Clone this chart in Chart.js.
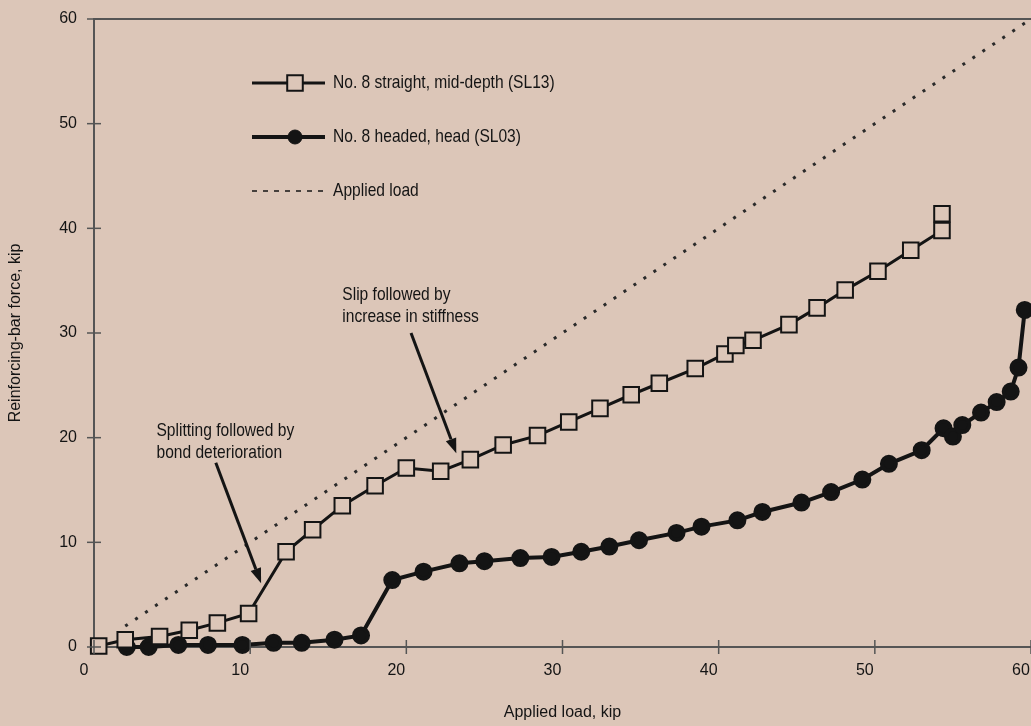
<!DOCTYPE html>
<html>
<head>
<meta charset="utf-8">
<script src="https://cdn.jsdelivr.net/npm/chart.js@4.4.1/dist/chart.umd.min.js"></script>
<style>
  html, body { margin: 0; padding: 0; background: #dcc6b8; }
</style>
</head>
<body>
<canvas id="myChart" width="1031" height="726"></canvas>
<script>
// datos (carga aplicada, kip -> fuerza en la barra, kip)
const rectaX = [0.3, 2.0, 4.2, 6.1, 7.9, 9.9, 12.3, 14.0, 15.9, 18.0, 20.0, 22.2, 24.1, 26.2, 28.4, 30.4,
    32.4, 34.4, 36.2, 38.5, 40.4, 41.1, 42.2, 44.5, 46.3, 48.1, 50.2, 52.3, 54.3, 54.3];
const rectaY = [0.1, 0.7, 1.0, 1.6, 2.3, 3.2, 9.1, 11.2, 13.5, 15.4, 17.1, 16.8, 17.9, 19.3, 20.2, 21.5,
    22.8, 24.1, 25.2, 26.6, 28.0, 28.8, 29.3, 30.8, 32.4, 34.1, 35.9, 37.9, 39.8, 41.4];

const cabezaX = [2.1, 3.5, 5.4, 7.3, 9.5, 11.5, 13.3, 15.4, 17.1, 19.1, 21.1, 23.4, 25.0, 27.3, 29.3, 31.2,
    33.0, 34.9, 37.3, 38.9, 41.2, 42.8, 45.3, 47.2, 49.2, 50.9, 53.0, 54.4, 55.0, 55.6, 56.8, 57.8, 58.7, 59.2, 59.6];
const cabezaY = [0.0, 0.0, 0.2, 0.2, 0.2, 0.4, 0.4, 0.7, 1.1, 6.4, 7.2, 8.0, 8.2, 8.5, 8.6, 9.1,
    9.6, 10.2, 10.9, 11.5, 12.1, 12.9, 13.8, 14.8, 16.0, 17.5, 18.8, 20.9, 20.1, 21.2, 22.4, 23.4, 24.4, 26.7, 32.2];

const cargaX = [2, 60];
const cargaY = [2, 60];

const etiquetas = ['No. 8 straight, mid-depth (SL13)', 'No. 8 headed, head (SL03)', 'Applied load'];
const ticksEjes = [0, 10, 20, 30, 40, 50, 60];

// notas con flecha (en unidades de los ejes)
const notas = [
    { lineas: ['Splitting followed by', 'bond deterioration'], x: 4.0, y: 20.7, desde: [7.8, 17.6], hasta: [10.7, 6.1] },
    { lineas: ['Slip followed by', 'increase in stiffness'], x: 15.9, y: 33.7, desde: [20.3, 30.0], hasta: [23.2, 18.5] }
];

const fondo = '#dcc6b8';
const tinta = '#141414';
const ejeColor = '#555';
const fuente = "'Liberation Sans', Arial, sans-serif";

Chart.defaults.font.family = fuente;
Chart.defaults.font.size = 16;
Chart.defaults.color = tinta;

const pares = (xs, ys) => xs.map((x, i) => ({ x: x, y: ys[i] }));

// texto estrecho (la grafica original usa una letra condensada)
function textoEstrecho(ctx, t, x, y) {
    ctx.save();
    ctx.translate(x, y);
    ctx.scale(0.82, 1);
    ctx.fillText(t, 0, 0);
    ctx.restore();
}

//Bloque donde se montan los datos
const data = {
    datasets: [{
        label: etiquetas[0],
        data: pares(rectaX, rectaY),
        borderColor: tinta,
        borderWidth: 3,
        pointStyle: 'rect',
        pointRadius: 11,
        pointBorderWidth: 2,
        pointBackgroundColor: fondo,
        pointBorderColor: tinta,
        clip: false
    }, {
        label: etiquetas[1],
        data: pares(cabezaX, cabezaY),
        borderColor: tinta,
        borderWidth: 4,
        pointStyle: 'circle',
        pointRadius: 7,
        pointBackgroundColor: tinta,
        pointBorderColor: tinta,
        clip: false
    }, {
        label: etiquetas[2],
        data: pares(cargaX, cargaY),
        borderColor: '#2a2a2a',
        borderWidth: 3,
        borderDash: [3, 9],
        pointRadius: 0,
        clip: false
    }]
};

// fondo, bordes, marcas de los ejes, leyenda y notas
const extras = {
    id: 'extras',
    beforeDraw(chart) {
        const ctx = chart.ctx;
        ctx.save();
        ctx.fillStyle = fondo;
        ctx.fillRect(0, 0, chart.width, chart.height);
        ctx.restore();
    },
    afterDatasetsDraw(chart) {
        const ctx = chart.ctx;
        const a = chart.chartArea;
        const sx = chart.scales.x, sy = chart.scales.y;
        ctx.save();

        // borde superior
        ctx.strokeStyle = ejeColor;
        ctx.lineWidth = 2;
        ctx.beginPath();
        ctx.moveTo(a.left, a.top);
        ctx.lineTo(a.right, a.top);
        ctx.stroke();

        // marcas que cruzan los ejes
        ctx.lineWidth = 1.5;
        ticksEjes.forEach(v => {
            const py = sy.getPixelForValue(v);
            ctx.beginPath();
            ctx.moveTo(a.left - 7, py);
            ctx.lineTo(a.left + 7, py);
            ctx.stroke();
            const px = sx.getPixelForValue(v);
            ctx.beginPath();
            ctx.moveTo(px, a.bottom - 7);
            ctx.lineTo(px, a.bottom + 7);
            ctx.stroke();
        });

        // leyenda
        ctx.font = '19px ' + fuente;
        ctx.textBaseline = 'middle';
        ctx.textAlign = 'left';
        chart.data.datasets.forEach((ds, i) => {
            const y = a.top + 64 + i * 54;
            const x0 = a.left + 158, x1 = a.left + 231;
            ctx.strokeStyle = tinta;
            if (i === 2) {
                ctx.lineWidth = 1.5;
                ctx.setLineDash([5, 6]);
            } else {
                ctx.lineWidth = ds.borderWidth;
            }
            ctx.beginPath();
            ctx.moveTo(x0, y);
            ctx.lineTo(x1, y);
            ctx.stroke();
            ctx.setLineDash([]);
            if (i < 2) {
                ctx.fillStyle = ds.pointBackgroundColor;
                ctx.strokeStyle = ds.pointBorderColor;
                ctx.lineWidth = ds.pointBorderWidth || 1;
                Chart.helpers.drawPoint(ctx, {
                    pointStyle: ds.pointStyle,
                    radius: ds.pointRadius,
                    borderWidth: ds.pointBorderWidth || 1
                }, a.left + 201, y);
            }
            ctx.fillStyle = tinta;
            textoEstrecho(ctx, ds.label, a.left + 239, y);
        });

        // notas con flecha
        notas.forEach(n => {
            const tx = sx.getPixelForValue(n.x), ty = sy.getPixelForValue(n.y);
            ctx.fillStyle = tinta;
            n.lineas.forEach((t, k) => textoEstrecho(ctx, t, tx, ty + k * 22));
            const x0 = sx.getPixelForValue(n.desde[0]), y0 = sy.getPixelForValue(n.desde[1]);
            const x1 = sx.getPixelForValue(n.hasta[0]), y1 = sy.getPixelForValue(n.hasta[1]);
            const ang = Math.atan2(y1 - y0, x1 - x0);
            const largo = 15, ancho = 5.5;
            ctx.strokeStyle = tinta;
            ctx.lineWidth = 3;
            ctx.beginPath();
            ctx.moveTo(x0, y0);
            ctx.lineTo(x1 - Math.cos(ang) * largo, y1 - Math.sin(ang) * largo);
            ctx.stroke();
            ctx.beginPath();
            ctx.moveTo(x1, y1);
            ctx.lineTo(x1 - Math.cos(ang) * largo - Math.sin(ang) * ancho, y1 - Math.sin(ang) * largo + Math.cos(ang) * ancho);
            ctx.lineTo(x1 - Math.cos(ang) * largo + Math.sin(ang) * ancho, y1 - Math.sin(ang) * largo - Math.cos(ang) * ancho);
            ctx.closePath();
            ctx.fill();
        });
        ctx.restore();
    }
};

const options = {
    responsive: false,
    animation: false,
    layout: { autoPadding: false, padding: { top: 19, right: 0, left: 0, bottom: 0 } },
    plugins: {
        legend: { display: false },
        tooltip: { enabled: false }
    },
    elements: { line: { tension: 0 } },
    scales: {
        x: {
            type: 'linear',
            min: 0,
            max: 60,
            grid: { display: false, drawTicks: false },
            border: { display: true, color: ejeColor, width: 2 },
            ticks: { stepSize: 10, padding: 14, labelOffset: -10, maxRotation: 0 },
            title: { display: true, text: 'Applied load, kip', padding: { top: 0, bottom: 4 } },
            afterFit: s => { s.height = 79; s.paddingLeft = 0; s.paddingRight = 0; }
        },
        y: {
            type: 'linear',
            min: 0,
            max: 60,
            grid: { display: false, drawTicks: false },
            border: { display: true, color: ejeColor, width: 2 },
            ticks: { stepSize: 10, padding: 17 },
            title: { display: true, text: 'Reinforcing-bar force, kip', padding: { top: 6, bottom: 0 } },
            afterFit: s => { s.width = 94; s.paddingTop = 0; s.paddingBottom = 0; }
        }
    }
};

//Bloque de configuración
const config = {
    type: 'line',
    data,
    options,
    plugins: [extras]
};

//Bloque de renderizado
const myChart = new Chart(document.getElementById('myChart').getContext('2d'), config);
</script>
</body>
</html>
